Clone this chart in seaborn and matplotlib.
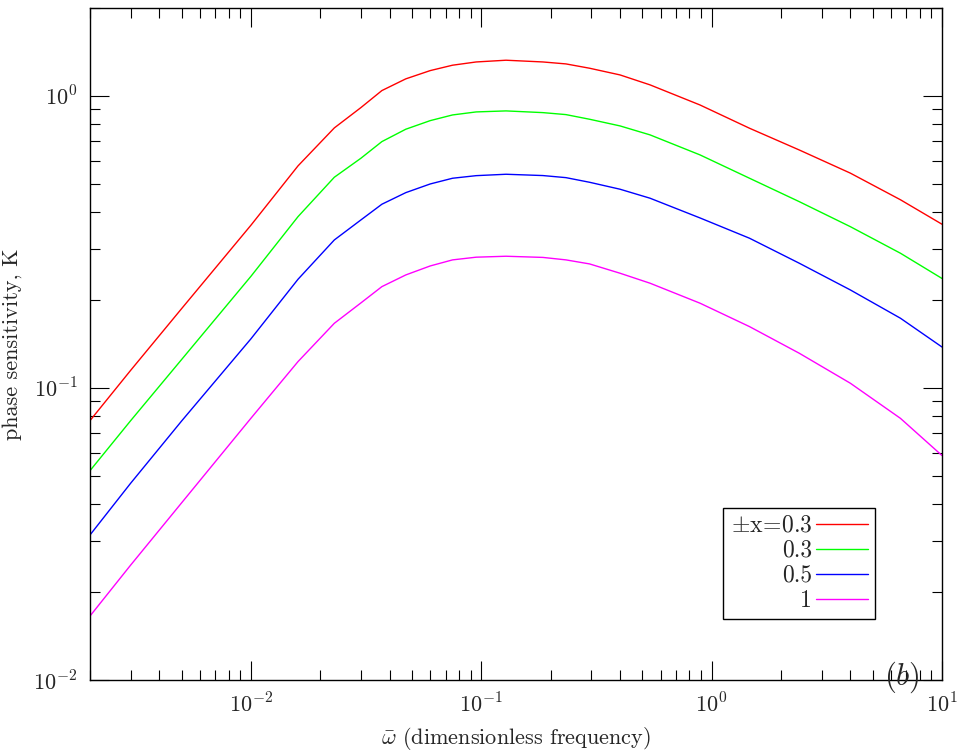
import numpy as np
import pandas as pd
import seaborn as sns
import matplotlib
matplotlib.use("Agg")
import matplotlib.pyplot as plt
from matplotlib.ticker import FixedLocator, FixedFormatter, LogLocator, NullFormatter

# ---- data ----
omega = [0.002, 0.003, 0.005, 0.01, 0.016, 0.023, 0.03, 0.037, 0.047, 0.06, 0.075,
         0.095, 0.128, 0.185, 0.233, 0.295, 0.4, 0.54, 0.89, 1.46, 2.4, 4.0, 6.6, 10.0]
k_red = [0.0773, 0.1148, 0.187, 0.361, 0.576, 0.777, 0.912, 1.043, 1.144, 1.221, 1.274,
         1.307, 1.325, 1.307, 1.287, 1.244, 1.180, 1.091, 0.931, 0.775, 0.653, 0.544,
         0.441, 0.3636]
k_green = [0.0521, 0.0772, 0.1252, 0.2413, 0.386, 0.5266, 0.6117, 0.6975, 0.7691, 0.823,
           0.8607, 0.8814, 0.8885, 0.8766, 0.863, 0.832, 0.7894, 0.7355, 0.6281, 0.5225,
           0.4345, 0.3567, 0.2893, 0.2371]
k_blue = [0.03138, 0.04714, 0.0771, 0.1474, 0.2356, 0.3212, 0.3761, 0.4257, 0.4665, 0.4995,
          0.5225, 0.5333, 0.5392, 0.5337, 0.525, 0.5062, 0.4792, 0.4464, 0.3821, 0.3256,
          0.2674, 0.2166, 0.1733, 0.1381]
k_magenta = [0.01656, 0.02472, 0.04044, 0.0788, 0.1231, 0.1665, 0.1955, 0.2223, 0.2438,
             0.2617, 0.2745, 0.2804, 0.2825, 0.2799, 0.2745, 0.2659, 0.2471, 0.2284, 0.1951,
             0.1622, 0.1315, 0.1038, 0.0787, 0.0587]
series_labels = [r'$\pm\mathrm{x}\!=\!0.3$', '0.3', '0.5', '1']
series_colors = ['#ff0000', '#00ff00', '#0000ff', '#ff00ff']
xtick_vals = [1e-2, 1e-1, 1e0, 1e1]
xtick_labels = [r'$10^{-2}$', r'$10^{-1}$', r'$10^{0}$', r'$10^{1}$']
ytick_vals = [1e-2, 1e-1, 1e0]
ytick_labels = [r'$10^{-2}$', r'$10^{-1}$', r'$10^{0}$']

series_vals = [k_red, k_green, k_blue, k_magenta]
frames = []
for lab, vals in zip(series_labels, series_vals):
    frames.append(pd.DataFrame({'omega': omega, 'K': vals, 'series': lab}))
df = pd.concat(frames, ignore_index=True)

sns.set_style('white')
plt.rcParams['font.family'] = 'serif'
plt.rcParams['font.serif'] = ['cmr10', 'DejaVu Serif']
plt.rcParams['mathtext.fontset'] = 'cm'
plt.rcParams['axes.unicode_minus'] = False
plt.rcParams['axes.formatter.use_mathtext'] = True

fig = plt.figure(figsize=(9.65, 7.55), dpi=100)
ax = fig.add_axes([90/965, 1-680/755, (942-90)/965, (680-8)/755])

sns.lineplot(data=df, x='omega', y='K', hue='series', palette=series_colors,
             hue_order=series_labels, estimator=None, sort=False, linewidth=1.0,
             ax=ax, legend=True)

ax.set_xscale('log')
ax.set_yscale('log')
ax.set_xlim(0.002, 10)
ax.set_ylim(0.01, 2)

ax.xaxis.set_major_locator(FixedLocator(xtick_vals))
ax.xaxis.set_major_formatter(FixedFormatter(xtick_labels))
ax.yaxis.set_major_locator(FixedLocator(ytick_vals))
ax.yaxis.set_major_formatter(FixedFormatter(ytick_labels))
ax.xaxis.set_minor_locator(LogLocator(base=10, subs=np.arange(2, 10), numticks=20))
ax.yaxis.set_minor_locator(LogLocator(base=10, subs=np.arange(2, 10), numticks=20))
ax.xaxis.set_minor_formatter(NullFormatter())
ax.yaxis.set_minor_formatter(NullFormatter())

ax.tick_params(which='both', direction='in', top=True, right=True, bottom=True, left=True,
               color='black', width=0.8)
ax.tick_params(which='major', length=13.5, labelsize=16, pad=9)
ax.tick_params(which='minor', length=7.5)
for sp in ax.spines.values():
    sp.set_color('black')
    sp.set_linewidth(1.0)

ax.set_xlabel(r'$\bar{\omega}$ (dimensionless frequency)', fontsize=16, labelpad=6)
ax.set_ylabel('phase sensitivity, K', fontsize=16, labelpad=8)

ax.text(6.7, 0.0102, r'$(b)$', fontsize=22, ha='center', va='center')

h, l = ax.get_legend_handles_labels()
leg = ax.legend(h, l, loc='lower right', bbox_to_anchor=(0.921, 0.091),
                markerfirst=False, handlelength=2.2, handletextpad=0.15,
                labelspacing=0.12, borderpad=0.3, fontsize=17, frameon=True,
                fancybox=False, framealpha=1, edgecolor='black', borderaxespad=0)
leg.get_frame().set_linewidth(1.0)

fig.savefig('out.png', dpi=100)
